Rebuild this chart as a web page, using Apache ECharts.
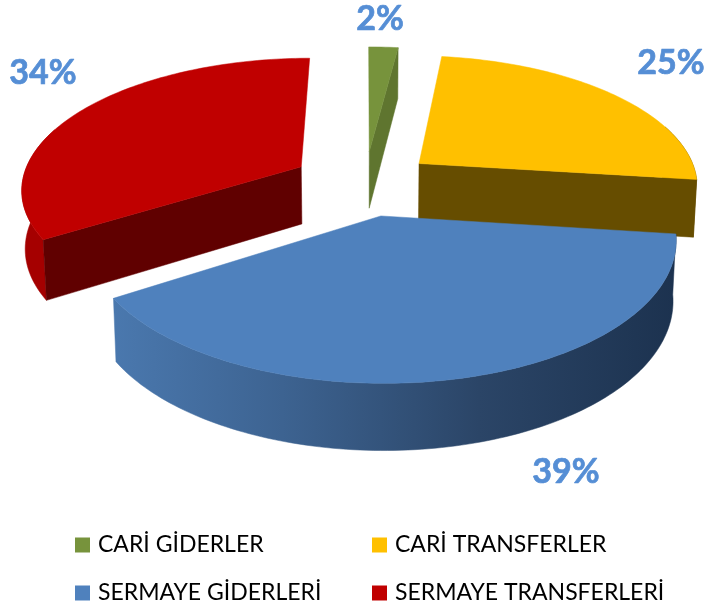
<!DOCTYPE html>
<html><head><meta charset="utf-8">
<style>html,body{margin:0;padding:0;background:#fff}#c{width:705px;height:609px}</style>
<script src="https://cdn.jsdelivr.net/npm/echarts@6/dist/echarts.min.js"></script>
</head><body><div id="c"></div>
<script>
const categories = ['CARİ GİDERLER', 'CARİ TRANSFERLER', 'SERMAYE GİDERLERİ', 'SERMAYE TRANSFERLERİ'];
const shareValues = [2, 25, 39, 34];
const topColors = ['#77933c', '#ffc000', '#4f81bd', '#c00000'];
const wallColors = ['#5f752f', '#664d00', '#1f3552', '#600000'];
const rimColors = ['#5f752f', '#664d00', null, '#a50000'];
const drawOrder = [0, 3, 1, 2];
const explodeBy = [0.25, 0.25, 0.25, 0.265];
const labelCentres = [[380, 19], [671, 63], [566, 472], [43, 73]];

// projection of the tilted pie
const view = { cx: 365, cy: 183, rx: 280, ry: 130, k: 0.155, depth: 58, depthK: 0.11, shrink: 0.99 };
const total = shareValues.reduce((a, b) => a + b, 0);
const starts = [];
shareValues.reduce((acc, v, i) => { starts[i] = acc; return acc + v; }, 0);
const ang = p => p / total * Math.PI * 2;

function project(u, v, low) {
  const w = 1 + view.k * v;
  const s = low ? view.shrink : 1;
  return [
    view.cx + view.rx * u / w * s,
    view.cy - view.ry * v / w + (low ? view.depth / (1 + view.depthK * v) : 0)
  ];
}
function sliceGeom(i) {
  const t0 = ang(starts[i]), t1 = ang(starts[i] + shareValues[i]), m = (t0 + t1) / 2;
  const ox = explodeBy[i] * Math.sin(m), oy = explodeBy[i] * Math.cos(m);
  const rim = (t, low) => project(ox + Math.sin(t), oy + Math.cos(t), low);
  const arc = (low, from, to) => {
    const a = from === undefined ? t0 : from, b = to === undefined ? t1 : to;
    const n = Math.max(4, Math.ceil((b - a) / 0.02)), pts = [];
    for (let j = 0; j <= n; j++) pts.push(rim(a + (b - a) * j / n, low));
    return pts;
  };
  return { t0, t1, rim, arc, apex: low => project(ox, oy, low) };
}
const poly = (points, fill) => ({ type: 'polygon', shape: { points }, style: { fill, stroke: fill, lineWidth: 0.5 }, silent: true });

function renderSlice(i) {
  return function () {
    const g = sliceGeom(i), children = [];
    const rimFill = rimColors[i] || new echarts.graphic.LinearGradient(0, 0, 1, 0, [
      { offset: 0, color: '#4a78ae' }, { offset: 0.3, color: '#3d6391' },
      { offset: 0.65, color: '#2b4567' }, { offset: 1, color: '#1c324f' }
    ]);
    // only the part of the outer wall that faces the viewer
    const lo = Math.max(g.t0, Math.PI * 0.4), hi = Math.min(g.t1, Math.PI * 1.6);
    if (hi > lo) children.push(poly(g.arc(false, lo, hi).concat(g.arc(true, lo, hi).reverse()), rimFill));
    if (Math.sin(g.t0) < -0.01) children.push(poly([g.apex(false), g.rim(g.t0, false), g.rim(g.t0, true), g.apex(true)], wallColors[i]));
    if (Math.sin(g.t1) > 0.01) children.push(poly([g.apex(false), g.rim(g.t1, false), g.rim(g.t1, true), g.apex(true)], wallColors[i]));
    children.push(poly([g.apex(false)].concat(g.arc(false)), topColors[i]));
    children.push({
      type: 'text', silent: true,
      style: { x: labelCentres[i][0], y: labelCentres[i][1], text: shareValues[i] + '%', fill: '#558ed5',
        stroke: '#558ed5', lineWidth: 0.7,
        font: 'bold 34px Lato', textAlign: 'center', textVerticalAlign: 'middle' }
    });
    return { type: 'group', children };
  };
}

const chart = echarts.init(document.getElementById('c'), null, { renderer: 'canvas' });
const legendBase = { orient: 'vertical', icon: 'rect', itemWidth: 15, itemHeight: 15, itemGap: 22, top: 532, padding: 0,
  textStyle: { fontFamily: 'Lato', fontSize: 23, lineHeight: 26, color: '#000', padding: [0, 0, 0, 3] }, selectedMode: false };
chart.setOption({
  animation: false,
  backgroundColor: '#fff',
  legend: [
    Object.assign({}, legendBase, { left: 75, data: [categories[0], categories[2]] }),
    Object.assign({}, legendBase, { left: 372, data: [categories[1], categories[3]] })
  ],
  series: categories.map((name, i) => ({
    type: 'custom', name, coordinateSystem: 'none',
    z: 2 + drawOrder.indexOf(i),
    itemStyle: { color: topColors[i] },
    data: [[shareValues[i]]],
    renderItem: renderSlice(i)
  }))
});
</script></body></html>
